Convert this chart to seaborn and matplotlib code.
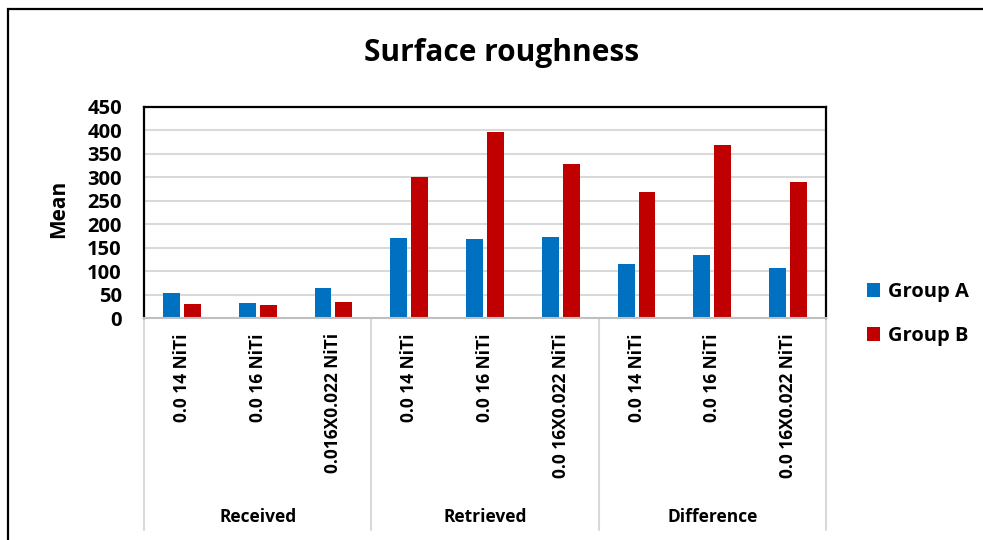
import matplotlib
matplotlib.use("Agg")
import matplotlib.pyplot as plt
import matplotlib.transforms as mtransforms
from matplotlib.patches import Rectangle
from matplotlib.lines import Line2D
import seaborn as sns
import pandas as pd

# ---- data ----
stages = ["Received", "Retrieved", "Difference"]
wire_labels = [
    "0.0 14 NiTi", "0.0 16 NiTi", "0.016X0.022 NiTi",
    "0.0 14 NiTi", "0.0 16 NiTi", "0.0 16X0.022 NiTi",
    "0.0 14 NiTi", "0.0 16 NiTi", "0.0 16X0.022 NiTi",
]
stage_of_bar = ["Received"] * 3 + ["Retrieved"] * 3 + ["Difference"] * 3
group_a = [54, 33, 65, 171, 168, 173, 115, 134, 107]
group_b = [30, 28, 35, 300, 397, 328, 268, 368, 290]
series_names = ["Group A", "Group B"]
y_ticks = [0, 50, 100, 150, 200, 250, 300, 350, 400, 450]

keys = [f"{s}|{w}" for s, w in zip(stage_of_bar, wire_labels)]
df = pd.DataFrame({
    "key": keys * 2,
    "Mean": group_a + group_b,
    "Group": [series_names[0]] * len(keys) + [series_names[1]] * len(keys),
})

sns.set_theme(style="white")
FONT = ["Open Sans", "DejaVu Sans"]
plt.rcParams["font.family"] = FONT
plt.rcParams["font.weight"] = "bold"
for k in ["text.color", "axes.labelcolor", "xtick.color", "ytick.color"]:
    plt.rcParams[k] = "black"

W, H = 983, 540
fig = plt.figure(figsize=(W / 100, H / 100), dpi=100)
fig.patch.set_facecolor("white")
ax = fig.add_axes([144 / W, 1 - 318 / H, (826 - 144) / W, (318 - 107) / H])

sns.barplot(data=df, x="key", y="Mean", hue="Group", order=keys,
            hue_order=series_names, palette=["#0070C0", "#C00000"],
            saturation=1, width=0.55, gap=0.19, linewidth=0, ax=ax, legend=True)

ax.set_ylim(0, 450)
ax.set_yticks(y_ticks)
ax.set_yticklabels([str(v) for v in y_ticks], fontsize=14.5, fontweight="bold",
                   color="black")
ax.tick_params(axis="y", length=0, pad=16)
ax.set_xlim(-0.5, len(keys) - 0.5)
ax.set_xticks(range(len(keys)))
ax.set_xticklabels(wire_labels, rotation=90, fontsize=12.5, fontweight="bold",
                   va="top", ha="center", color="black")
ax.tick_params(axis="x", length=0, pad=11)
ax.set_xlabel("")
ax.set_ylabel("")
ax.grid(axis="y", color="#D9D9D9", linewidth=1.5)
ax.set_axisbelow(True)
for side in ["left", "top", "right"]:
    ax.spines[side].set_color("black")
    ax.spines[side].set_linewidth(1.6)
ax.spines["bottom"].set_color("#BFBFBF")
ax.spines["bottom"].set_linewidth(1.5)

# separators and stage labels below the axis
trans = mtransforms.blended_transform_factory(ax.transData, ax.transAxes)
bounds = [-0.5, 2.5, 5.5, 8.5]
for b in bounds:
    ax.add_line(Line2D([b, b], [0, -212 / 211], transform=trans,
                       color="#D9D9D9", linewidth=1.5, clip_on=False))
for i, s in enumerate(stages):
    ax.text(3 * i + 1, -(517 - 318) / 211, s, transform=trans, ha="center",
            va="center", fontsize=12.5, fontweight="bold", color="black")

# legend
leg = ax.legend(loc="center left", bbox_to_anchor=(1.033, 0.02), frameon=False,
                fontsize=14.5, handlelength=0.68, handleheight=0.68,
                handletextpad=0.4, labelspacing=1.2)
for t in leg.get_texts():
    t.set_fontweight("bold")
    t.set_color("black")

fig.text(58.5 / W, 1 - 209 / H, "Mean", rotation=90, ha="center", va="center",
         fontsize=15, fontweight="bold", color="black")
fig.text(502 / W, 1 - 53 / H, "Surface roughness", ha="center", va="center",
         fontsize=21.5, fontweight="bold", color="black")

fig.patches.append(Rectangle((7.5 / W, -0.1), 1.2, 1.1 - 9 / H,
                             transform=fig.transFigure, fill=False,
                             edgecolor="black", linewidth=1.6, clip_on=False))

fig.savefig("out.png", dpi=100, facecolor="white")
